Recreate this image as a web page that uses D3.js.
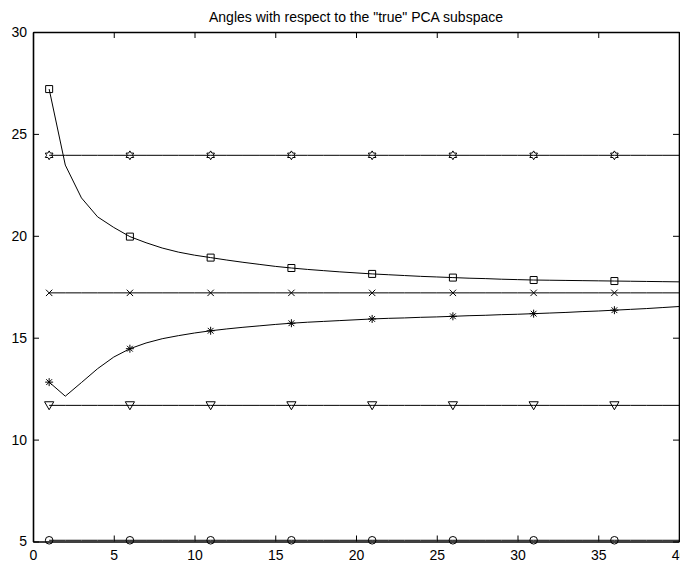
<!DOCTYPE html>
<html>
<head>
<meta charset="utf-8">
<script src="https://cdn.jsdelivr.net/npm/d3@7"></script>
<style>
  html, body { margin: 0; padding: 0; background: #fff; }
  svg { display: block; }
  text { font-family: "Liberation Sans", Arial, Helvetica, sans-serif; fill: #000; }
</style>
</head>
<body>
<svg id="chart" width="680" height="563"></svg>
<script>
// Subspace dimension / iteration index
const iterations = d3.range(1, 41);

// Angle (degrees) of each estimate with the reference PCA subspace
const squareAngles = [27.20, 23.47, 21.86, 20.93, 20.41, 19.96, 19.66, 19.40, 19.20, 19.05,
  18.93, 18.81, 18.70, 18.60, 18.50, 18.42, 18.35, 18.29, 18.23, 18.18,
  18.13, 18.09, 18.05, 18.01, 17.98, 17.95, 17.92, 17.90, 17.87, 17.85,
  17.83, 17.82, 17.81, 17.80, 17.79, 17.78, 17.77, 17.76, 17.75, 17.74];
const hexagramAngles = [23.95, 23.95, 23.95, 23.95, 23.95, 23.95, 23.95, 23.95, 23.95, 23.95,
  23.95, 23.95, 23.95, 23.95, 23.95, 23.95, 23.95, 23.95, 23.95, 23.95,
  23.95, 23.95, 23.95, 23.95, 23.95, 23.95, 23.95, 23.95, 23.95, 23.95,
  23.95, 23.95, 23.95, 23.95, 23.95, 23.95, 23.95, 23.95, 23.95, 23.95];
const crossAngles = [17.20, 17.20, 17.20, 17.20, 17.20, 17.20, 17.20, 17.20, 17.20, 17.20,
  17.20, 17.20, 17.20, 17.20, 17.20, 17.20, 17.20, 17.20, 17.20, 17.20,
  17.20, 17.20, 17.20, 17.20, 17.20, 17.20, 17.20, 17.20, 17.20, 17.20,
  17.20, 17.20, 17.20, 17.20, 17.20, 17.20, 17.20, 17.20, 17.20, 17.20];
const asteriskAngles = [12.82, 12.13, 12.80, 13.48, 14.05, 14.46, 14.74, 14.95, 15.10, 15.23,
  15.34, 15.43, 15.51, 15.58, 15.65, 15.71, 15.76, 15.80, 15.84, 15.88,
  15.92, 15.95, 15.97, 16.00, 16.02, 16.05, 16.08, 16.10, 16.13, 16.15,
  16.18, 16.21, 16.24, 16.28, 16.31, 16.35, 16.39, 16.43, 16.48, 16.53];
const triangleAngles = [11.68, 11.68, 11.68, 11.68, 11.68, 11.68, 11.68, 11.68, 11.68, 11.68,
  11.68, 11.68, 11.68, 11.68, 11.68, 11.68, 11.68, 11.68, 11.68, 11.68,
  11.68, 11.68, 11.68, 11.68, 11.68, 11.68, 11.68, 11.68, 11.68, 11.68,
  11.68, 11.68, 11.68, 11.68, 11.68, 11.68, 11.68, 11.68, 11.68, 11.68];
const circleAngles = [5.06, 5.06, 5.06, 5.06, 5.06, 5.06, 5.06, 5.06, 5.06, 5.06,
  5.06, 5.06, 5.06, 5.06, 5.06, 5.06, 5.06, 5.06, 5.06, 5.06,
  5.06, 5.06, 5.06, 5.06, 5.06, 5.06, 5.06, 5.06, 5.06, 5.06,
  5.06, 5.06, 5.06, 5.06, 5.06, 5.06, 5.06, 5.06, 5.06, 5.06];

// Markers are placed on every fifth point starting at the first
const markerStep = 5;

const xTicks = [0, 5, 10, 15, 20, 25, 30, 35, 40];
const yTicks = [5, 10, 15, 20, 25, 30];
const title = 'Angles with respect to the "true" PCA subspace';

const series = [
  { values: squareAngles, marker: "square" },
  { values: hexagramAngles, marker: "hexagram" },
  { values: crossAngles, marker: "cross" },
  { values: asteriskAngles, marker: "asterisk" },
  { values: triangleAngles, marker: "triangleDown" },
  { values: circleAngles, marker: "circle" }
];

const svg = d3.select("#chart");
const plotLeft = 33, plotRight = 679, plotTop = 32, plotBottom = 541.5;

const x = d3.scaleLinear().domain([0, 40]).range([plotLeft, plotRight]);
const y = d3.scaleLinear().domain([5, 30]).range([plotBottom, plotTop]);

// Marker path builders centred on (0,0)
const markerPaths = {
  square: () => { const s = 3.5; return `M${-s},${-s}H${s}V${s}H${-s}Z`; },
  circle: () => { const r = 3.8; return `M${r},0A${r},${r} 0 1,1 ${-r},0A${r},${r} 0 1,1 ${r},0Z`; },
  cross: () => { const s = 3.2; return `M${-s},${-s}L${s},${s}M${-s},${s}L${s},${-s}`; },
  asterisk: () => {
    const s = 4;
    const d = s * 0.72;
    return `M0,${-s}V${s}M${-s},0H${s}M${-d},${-d}L${d},${d}M${-d},${d}L${d},${-d}`;
  },
  triangleDown: () => { const w = 4.6, h = 3.6; return `M${-w},${-h}H${w}L0,${h + 0.8}Z`; },
  hexagram: () => {
    const r = 4.4;
    const pts = [];
    for (let i = 0; i < 12; i++) {
      const a = -Math.PI / 2 + i * Math.PI / 6;
      const rr = i % 2 === 0 ? r : r * 0.58;
      pts.push([rr * Math.cos(a), rr * Math.sin(a)]);
    }
    return "M" + pts.map(p => p[0].toFixed(2) + "," + p[1].toFixed(2)).join("L") + "Z";
  }
};

// Title
svg.append("text")
  .attr("x", 356)
  .attr("y", 22)
  .attr("text-anchor", "middle")
  .style("font-size", "14px")
  .text(title);

// Data lines
const line = d3.line()
  .x((d, i) => x(iterations[i]))
  .y(d => y(d));

const plot = svg.append("g");
series.forEach(s => {
  plot.append("path")
    .attr("d", line(s.values))
    .attr("fill", "none")
    .attr("stroke", "#000")
    .attr("stroke-width", 1);
});

// Markers
series.forEach(s => {
  const pts = iterations
    .map((it, i) => ({ it, v: s.values[i], i }))
    .filter(d => d.i % markerStep === 0);
  plot.selectAll(null)
    .data(pts)
    .enter()
    .append("path")
    .attr("transform", d => `translate(${x(d.it)},${y(d.v)})`)
    .attr("d", markerPaths[s.marker]())
    .attr("fill", "none")
    .attr("stroke", "#000")
    .attr("stroke-width", 1);
});

// Axes box with inward ticks on all four sides
const tickLen = 6;
const bottomAxis = d3.axisBottom(x).tickValues(xTicks).tickSizeInner(-tickLen).tickSizeOuter(0).tickPadding(9).tickFormat(d3.format("d"));
const topAxis = d3.axisTop(x).tickValues(xTicks).tickSizeInner(-tickLen).tickSizeOuter(0).tickFormat("");
const leftAxis = d3.axisLeft(y).tickValues(yTicks).tickSizeInner(-tickLen).tickSizeOuter(0).tickPadding(6).tickFormat(d3.format("d"));
const rightAxis = d3.axisRight(y).tickValues(yTicks).tickSizeInner(-tickLen).tickSizeOuter(0).tickFormat("");

function styleAxis(g) {
  g.select(".domain").attr("stroke", "#000").attr("stroke-width", 1.6);
  g.selectAll(".tick line").attr("stroke", "#000").attr("stroke-width", 1);
  g.selectAll(".tick text")
    .style("font-family", '"Liberation Sans", Arial, Helvetica, sans-serif')
    .style("font-size", "14px")
    .attr("fill", "#000");
}

svg.append("g").attr("transform", `translate(0,${plotBottom})`).call(bottomAxis).call(styleAxis);
svg.append("g").attr("transform", `translate(0,${plotTop})`).call(topAxis).call(styleAxis);
svg.append("g").attr("transform", `translate(${plotLeft},0)`).call(leftAxis).call(styleAxis);
svg.append("g").attr("transform", `translate(${plotRight},0)`).call(rightAxis).call(styleAxis);
</script>
</body>
</html>
